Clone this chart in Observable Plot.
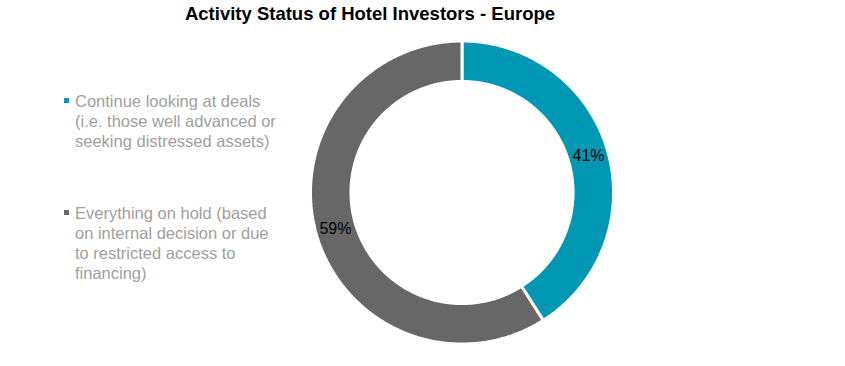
<!DOCTYPE html>
<html><head><meta charset="utf-8">
<script src="https://cdn.jsdelivr.net/npm/d3@7"></script>
<script src="https://cdn.jsdelivr.net/npm/@observablehq/plot@0.6"></script>
<style>
body{margin:0;background:#fff;font-family:"Liberation Sans",Arial,sans-serif;}
#wrap{position:relative;width:845px;height:366px;overflow:hidden;}
#chart{position:absolute;left:0;top:0;}
#title{position:absolute;left:0;width:740px;top:3px;text-align:center;font-weight:bold;font-size:18.5px;color:#000;white-space:nowrap;}
.leg{position:absolute;left:75px;font-size:16.5px;line-height:20px;color:#a0a0a0;white-space:nowrap;}
.sw{position:absolute;left:64px;width:5px;height:5px;}
</style></head><body>
<div id="wrap"><div id="chart"></div><div id="title"></div><div id="legend"></div></div>
<script>
const title = "Activity Status of Hotel Investors - Europe";
const categories = ["Continue looking at deals", "Everything on hold"];
const legendLines = [
  ["Continue looking at deals", "(i.e. those well advanced or", "seeking distressed assets)"],
  ["Everything on hold (based", "on internal decision or due", "to restricted access to", "financing)"]
];
const values = [41, 59];
const valueLabels = ["41%", "59%"];
const colors = ["#0097b5", "#676767"];

const cx = 461.5, cy = 192, R = 151.5, innerRatio = 0.733, labelRatio = 0.87;

const arcs = d3.pie().sort(null).value(d => d)(values);
const pts = [];
arcs.forEach((a, i) => {
  const key = categories[i];
  const n = Math.max(8, Math.ceil((a.endAngle - a.startAngle) / (Math.PI / 360)));
  for (let k = 0; k <= n; k++) {
    const t = a.startAngle + (a.endAngle - a.startAngle) * k / n;
    pts.push({key, x: Math.sin(t), y: Math.cos(t)});
  }
  for (let k = n; k >= 0; k--) {
    const t = a.startAngle + (a.endAngle - a.startAngle) * k / n;
    pts.push({key, x: innerRatio * Math.sin(t), y: innerRatio * Math.cos(t)});
  }
  pts.push({key, x: Math.sin(a.startAngle), y: Math.cos(a.startAngle)});
});
const labelData = arcs.map((a, i) => {
  const m = (a.startAngle + a.endAngle) / 2;
  return {x: labelRatio * Math.sin(m), y: labelRatio * Math.cos(m), text: valueLabels[i]};
});

const chart = Plot.plot({
  width: 845, height: 366, margin: 0,
  style: {background: "transparent", fontFamily: "'Liberation Sans', Arial, sans-serif"},
  x: {domain: [-1, 1], range: [cx - R, cx + R], axis: null},
  y: {domain: [-1, 1], range: [cy + R, cy - R], axis: null},
  color: {domain: categories, range: colors},
  marks: [
    Plot.line(pts, {x: "x", y: "y", z: "key", fill: "key", stroke: "white", strokeWidth: 3, strokeLinejoin: "miter", curve: "linear"}),
    Plot.text(labelData, {x: "x", y: "y", text: "text", fill: "#000", fontSize: 16})
  ]
});
document.getElementById("chart").appendChild(chart);
document.getElementById("title").textContent = title;

const legend = document.getElementById("legend");
const tops = [91, 203];
legendLines.forEach((lines, i) => {
  const sw = document.createElement("div");
  sw.className = "sw";
  sw.style.top = (tops[i] + 7) + "px";
  sw.style.background = colors[i];
  legend.appendChild(sw);
  const d = document.createElement("div");
  d.className = "leg";
  d.style.top = tops[i] + "px";
  d.innerHTML = lines.map(s => s.replace(/&/g, "&amp;").replace(/</g, "&lt;")).join("<br>");
  legend.appendChild(d);
});
</script>
</body></html>
